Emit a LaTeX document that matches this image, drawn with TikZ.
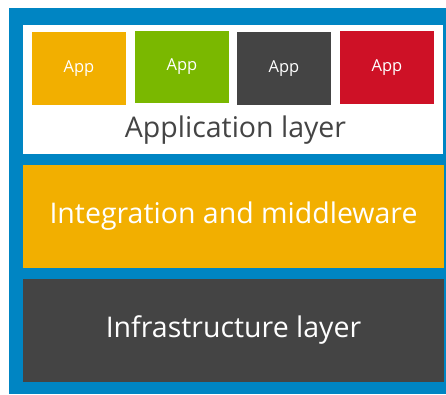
\documentclass[tikz,border=0pt]{standalone}
\usepackage{fontspec}
\setmainfont{Open Sans}
\definecolor{dellblue}{HTML}{0085C3}
\definecolor{layeryellow}{HTML}{F2AF00}
\definecolor{appgreen}{HTML}{7AB800}
\definecolor{darkgray}{HTML}{444444}
\definecolor{appred}{HTML}{CE1126}
\begin{document}
\begin{tikzpicture}[x=1pt,y=-1pt,
  block/.style={inner sep=0pt, outer sep=0pt, anchor=north west},
  appbox/.style={block, minimum width=94pt, minimum height=73pt, text=white, font=\fontsize{16.5}{18}\selectfont},
  layerbox/.style={block, minimum width=421pt, text=white, font=\fontsize{28.5}{32}\selectfont}]
  \useasboundingbox (0,0) rectangle (446,394);
  \fill[white] (0,0) rectangle (446,394);
  % outer frame
  \fill[dellblue] (9,8) rectangle (446,394);
  % application layer
  \node[block, fill=white, minimum width=420pt, minimum height=129pt] (applayer) at (23,25) {};
  \node[appbox, fill=layeryellow] (app1) at (32,32) {App};
  \node[appbox, fill=appgreen, minimum height=72pt] (app2) at (135,31) {App};
  \node[appbox, fill=darkgray] (app3) at (237,32) {App};
  \node[appbox, fill=appred] (app4) at (340,31) {App};
  \node[text=darkgray, font=\fontsize{28.5}{32}\selectfont, anchor=base] (applabel) at (235.5,137) {Application layer};
  % integration layer
  \node[layerbox, fill=layeryellow, minimum height=103pt] (integration) at (23,165) {Integration and middleware};
  % infrastructure layer
  \node[layerbox, fill=darkgray, minimum height=103pt] (infra) at (23,279) {Infrastructure layer};
\end{tikzpicture}
\end{document}
